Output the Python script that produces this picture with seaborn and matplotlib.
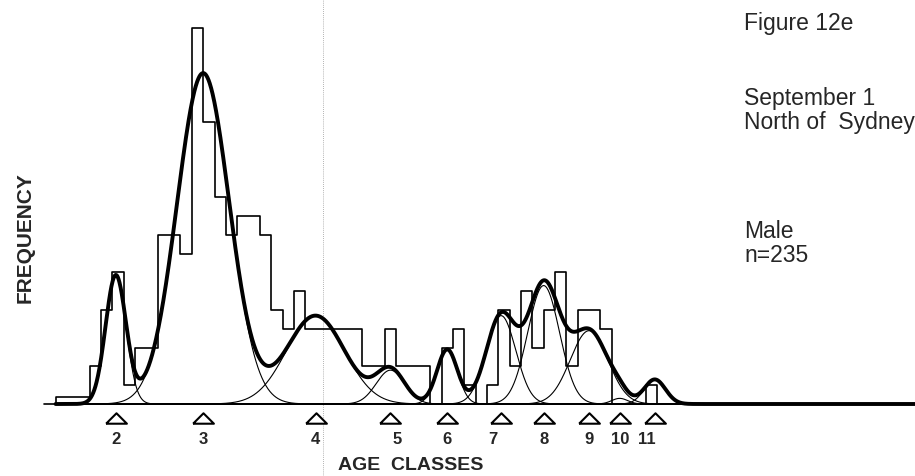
import numpy as np
import pandas as pd
import matplotlib
matplotlib.use("Agg")
import matplotlib.pyplot as plt
import matplotlib.transforms as mtrans
import seaborn as sns

# ---------------- data ----------------
# length classes (bin index) and observed frequency per class
length_class = list(range(55))
frequency = [0, 0.35, 0.35, 0.35, 2, 5, 7, 1, 3, 3,
             9, 9, 8, 20, 15, 11, 9, 10, 10, 9,
             5, 4, 6, 4, 4, 4, 4, 4, 2, 2,
             4, 2, 2, 2, 0, 3, 4, 1, 0, 1,
             5, 2, 6, 3, 5, 7, 2, 5, 5, 4,
             0, 0, 0, 1, 0]

# fitted age-class components (mean / sd in length-class units, peak height in counts)
age_classes = ["2", "3", "4", "5", "6", "7", "8", "9", "10", "11"]
comp_mean = [6.3, 14.0, 23.9, 30.5, 35.5, 40.25, 44.0, 48.0, 50.7, 53.8]
comp_sd = [0.9, 2.3, 2.55, 1.25, 0.9, 1.3, 1.4, 1.65, 0.7, 0.93]
comp_peak = [6.8, 17.6, 4.7, 1.8, 2.9, 4.7, 6.3, 3.9, 0.3, 1.3]

title_lines = ["Figure 12e", "September 1", "North of  Sydney", "Male", "n=235"]

# ---------------- figure ----------------
sns.set_style("white")
plt.rcParams["font.family"] = ["Liberation Sans", "DejaVu Sans"]

W, H = 915, 476
fig = plt.figure(figsize=(W / 100, H / 100), dpi=100)
ax = fig.add_axes([0, 0, 1, 1])

# pixel calibration: x_px = 44.25 + 11.35*x ; y_px = 404 - 18.8*y
x0_px, dx_px = 44.25, 11.35
y0_px, dy_px = 404.0, 18.8

# faint fold line of the scan
ax.axvline((323 - x0_px) / dx_px, color="#9a9a9a", lw=0.6, ls=(0, (1, 1.5)), zorder=0)

# histogram (step outline)
df = pd.DataFrame({"cls": [c + 0.5 for c in length_class], "freq": frequency})
sns.histplot(data=df, x="cls", weights="freq", binwidth=1,
             binrange=(0, len(length_class)), element="step",
             fill=False, color="black", linewidth=1.2, ax=ax, zorder=2)

# components and total curve
xg = np.linspace(1.0, (W - x0_px) / dx_px, 3000)
total = np.zeros_like(xg)
for m, s, p in zip(comp_mean, comp_sd, comp_peak):
    yc = p * np.exp(-0.5 * ((xg - m) / s) ** 2)
    total += yc
    sns.lineplot(x=xg, y=yc, color="black", linewidth=0.8, ax=ax, zorder=3)
sns.lineplot(x=xg, y=total, color="black", linewidth=2.8, ax=ax, zorder=4)

ax.set_xlim((0 - x0_px) / dx_px, (W - x0_px) / dx_px)
ax.set_ylim((y0_px - H) / dy_px, y0_px / dy_px)
ax.axis("off")

# triangles and age-class labels under the axis
tr = mtrans.blended_transform_factory(ax.transData, fig.transFigure)
tri_y = 1 - 418 / H
lab_y = 1 - 440 / H
flat_tri = [(-1.0, -0.5), (1.0, -0.5), (0.0, 0.5), (-1.0, -0.5)]
ax.plot(comp_mean, [tri_y] * len(comp_mean), transform=tr, ls="none",
        marker=flat_tri, ms=15, mfc="white", mec="black", mew=1.5,
        clip_on=False, zorder=5)
# small hand-placement nudges of the printed labels (pixels)
label_nudge_px = {"5": 7, "7": -8, "11": -8}
for m, lab in zip(comp_mean, age_classes):
    ax.text(m + label_nudge_px.get(lab, 0) / dx_px, lab_y, lab, transform=tr,
            ha="center", va="center", fontsize=12, fontweight="bold")

fig.text(411 / W, 1 - 466 / H, "AGE  CLASSES", ha="center", va="center",
         fontsize=14, fontweight="bold")
fig.text(25 / W, 1 - 238 / H, "FREQUENCY", rotation=90, ha="center", va="center",
         fontsize=15, fontweight="bold")

# right-hand annotations
baselines = [30, 105, 129, 238, 262]
for txt, b in zip(title_lines, baselines):
    fig.text(744 / W, 1 - b / H, txt, ha="left", va="baseline", fontsize=16.5)

fig.savefig("out.png", dpi=100)
